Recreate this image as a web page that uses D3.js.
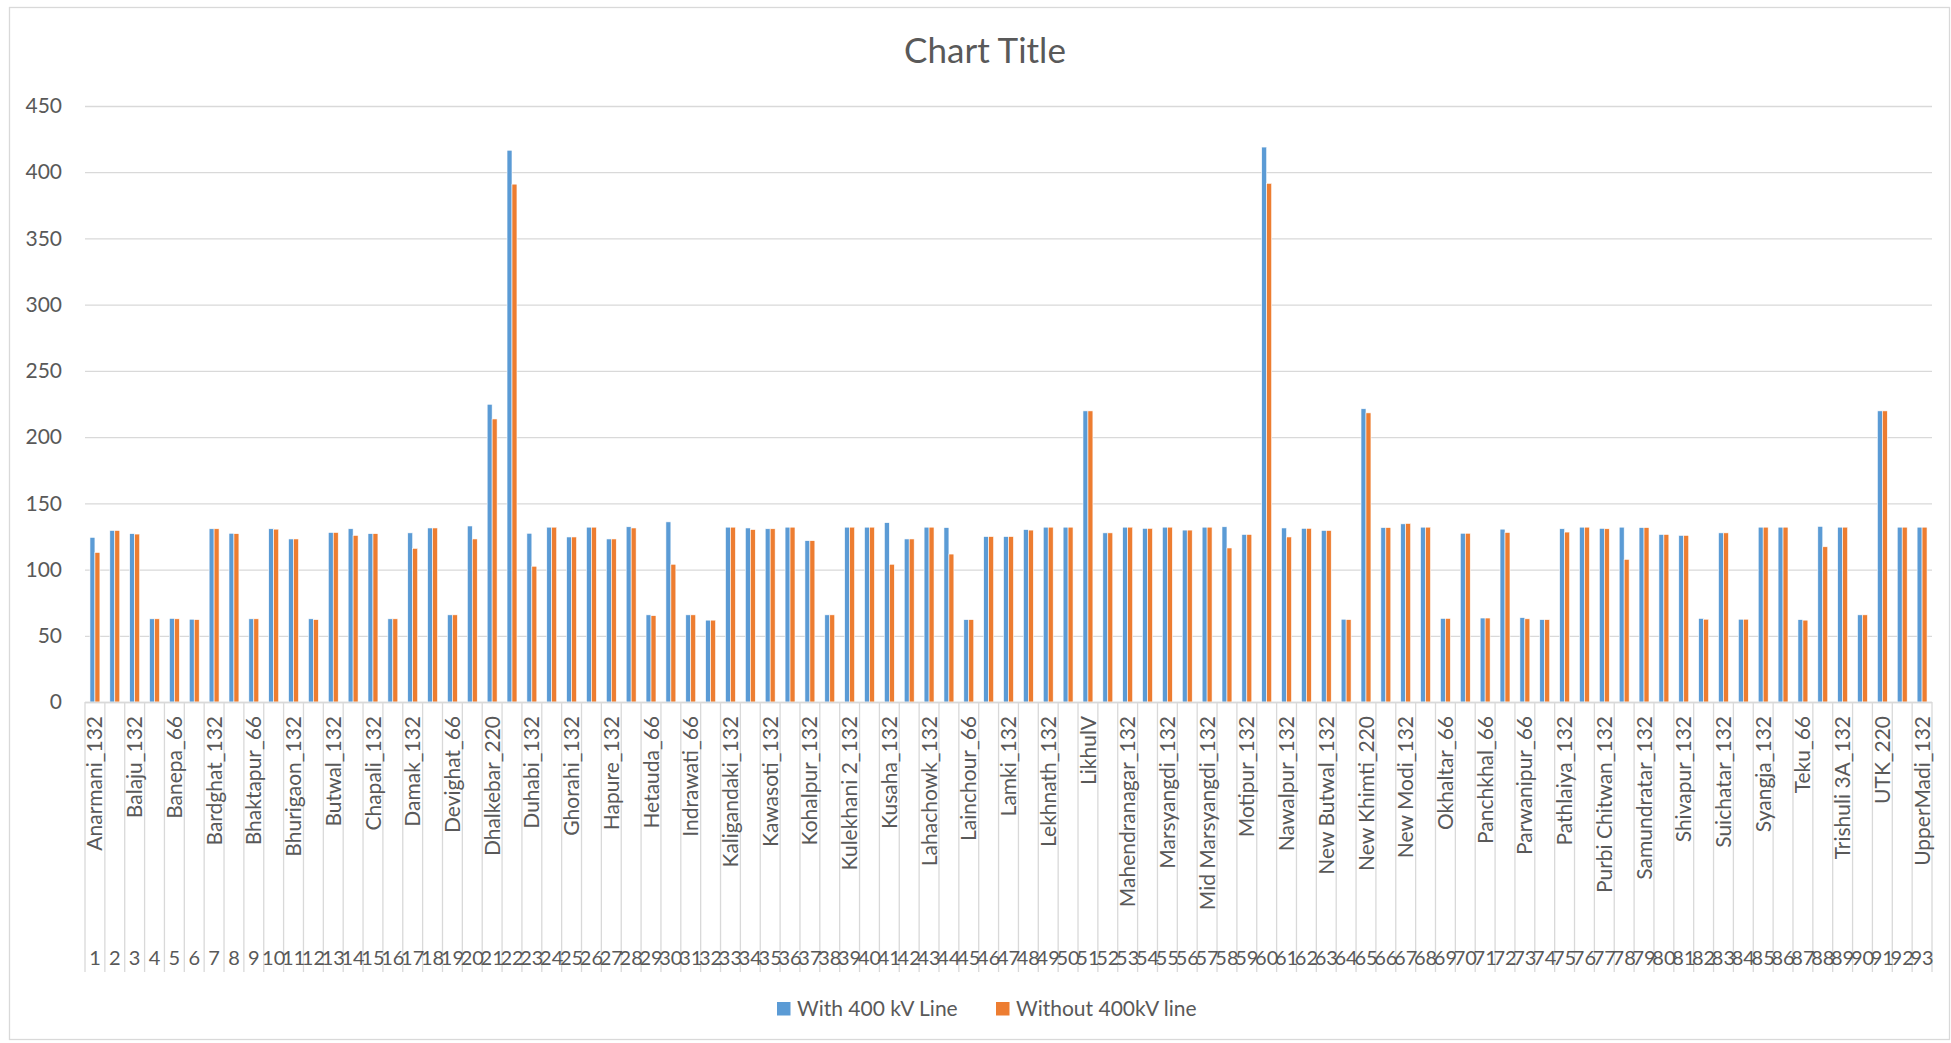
<!DOCTYPE html>
<html>
<head>
<meta charset="utf-8">
<script src="https://cdn.jsdelivr.net/npm/d3@7"></script>
<style>
  html, body { margin: 0; padding: 0; background: #fff; }
  svg { display: block; }
  text { font-family: Lato, "Open Sans", sans-serif; fill: #595959; }
</style>
</head>
<body>
<svg id="chart" width="1951" height="1043"></svg>
<script>
const categories = [1,2,3,4,5,6,7,8,9,10,11,12,13,14,15,16,17,18,19,20,21,22,23,24,25,26,27,28,29,30,
  31,32,33,34,35,36,37,38,39,40,41,42,43,44,45,46,47,48,49,50,51,52,53,54,55,56,57,58,59,60,
  61,62,63,64,65,66,67,68,69,70,71,72,73,74,75,76,77,78,79,80,81,82,83,84,85,86,87,88,89,90,91,92,93];

const stationNames = ["Anarmani_132","","Balaju_132","","Banepa_66","","Bardghat_132","","Bhaktapur_66","",
  "Bhurigaon_132","","Butwal_132","","Chapali_132","","Damak_132","","Devighat_66","",
  "Dhalkebar_220","","Duhabi_132","","Ghorahi_132","","Hapure_132","","Hetauda_66","",
  "Indrawati_66","","Kaligandaki_132","","Kawasoti_132","","Kohalpur_132","","Kulekhani 2_132","",
  "Kusaha_132","","Lahachowk_132","","Lainchour_66","","Lamki_132","","Lekhnath_132","",
  "LikhulV","","Mahendranagar_132","","Marsyangdi_132","","Mid Marsyangdi_132","","Motipur_132","",
  "Nawalpur_132","","New Butwal_132","","New Khimti_220","","New Modi_132","","Okhaltar_66","",
  "Panchkhal_66","","Parwanipur_66","","Pathlaiya_132","","Purbi Chitwan_132","","Samundratar_132","",
  "Shivapur_132","","Suichatar_132","","Syangja_132","","Teku_66","","Trishuli 3A_132","",
  "UTK_220","","UpperMadi_132"];

const withLine = [124.3,129.5,127.1,62.8,63.1,62.5,130.8,127.4,62.8,130.8,
  123.1,62.8,128.0,130.8,127.1,62.8,127.7,131.4,65.8,132.9,
  224.8,416.6,127.4,132.0,124.6,132.0,123.1,132.3,65.8,136.0,
  65.8,61.8,132.0,131.4,130.8,132.0,121.8,65.8,132.0,132.0,
  135.4,123.1,132.0,131.7,62.2,124.9,124.9,130.2,132.0,132.0,
  219.8,127.7,132.0,131.1,132.0,129.8,132.0,132.3,126.5,419.0,
  131.4,131.1,129.5,62.5,221.4,131.7,134.5,132.0,63.1,127.4,
  63.4,130.5,63.7,62.2,130.8,132.0,131.1,132.0,131.7,126.5,
  125.8,63.1,127.7,62.5,132.0,132.0,62.2,132.6,132.0,65.8,
  219.8,132.0,132.0];

const withoutLine = [112.9,129.5,126.8,62.8,62.8,62.2,130.8,127.1,62.8,130.5,
  123.1,62.2,128.0,125.8,127.1,62.8,116.0,131.4,65.8,123.1,
  213.7,391.0,102.5,132.0,124.6,132.0,123.1,131.4,65.2,104.0,
  65.8,61.8,132.0,130.2,130.8,132.0,121.8,65.8,132.0,132.0,
  104.0,123.1,132.0,111.7,62.2,124.9,124.9,129.8,132.0,132.0,
  219.8,127.7,132.0,131.1,132.0,129.8,132.0,116.3,126.5,391.6,
  124.6,131.1,129.5,62.2,218.3,131.7,134.8,132.0,63.1,127.4,
  63.4,128.0,62.8,62.2,128.3,132.0,130.8,107.7,131.7,126.5,
  125.8,62.5,127.7,62.5,132.0,132.0,61.8,117.2,132.0,65.8,
  219.8,132.0,132.0];

const seriesNames = ["With 400 kV Line", "Without 400kV line"];
const seriesColors = ["#5B9BD5", "#ED7D31"];
const yTicks = [0,50,100,150,200,250,300,350,400,450];

const svg = d3.select("#chart");
const W = 1951, H = 1043;
const plot = { left: 85, right: 1932, top: 106, bottom: 702 };

svg.append("rect").attr("x", 0).attr("y", 0).attr("width", W).attr("height", H).attr("fill", "#fff");
// chart border
svg.append("rect").attr("x", 9.5).attr("y", 7.5).attr("width", W - 11).attr("height", 1032)
  .attr("fill", "none").attr("stroke", "#d9d9d9").attr("stroke-width", 1.3);

const x0 = d3.scaleBand().domain(categories).range([plot.left, plot.right]).paddingInner(0).paddingOuter(0);
const x1 = d3.scaleBand().domain([0, 1]).range([0, x0.bandwidth()]).paddingInner(0).paddingOuter(1);
const y = d3.scaleLinear().domain([0, 450]).range([plot.bottom, plot.top]);

// gridlines + y labels
const yAxis = d3.axisLeft(y).tickValues(yTicks).tickSize(-(plot.right - plot.left)).tickPadding(23).tickFormat(d3.format("d"));
const gy = svg.append("g").attr("transform", `translate(${plot.left},0)`).call(yAxis);
gy.select(".domain").remove();
gy.selectAll(".tick line").attr("stroke", "#d9d9d9").attr("stroke-width", 1.3);
gy.selectAll(".tick text").attr("font-size", 21).attr("fill", "#595959")
  .style("font-family", "Lato, 'Open Sans', sans-serif");

// bars
const groups = svg.append("g").selectAll("g").data(categories).join("g")
  .attr("transform", d => `translate(${x0(d)},0)`);
[withLine, withoutLine].forEach((vals, si) => {
  groups.append("rect")
    .attr("x", x1(si))
    .attr("width", x1.bandwidth())
    .attr("y", (d, i) => y(vals[i]))
    .attr("height", (d, i) => y(0) - y(vals[i]))
    .attr("fill", seriesColors[si])
    .attr("stroke", "#fff").attr("stroke-width", 0.6);
});

// category axis line and separators
svg.append("line").attr("x1", plot.left).attr("x2", plot.right).attr("y1", plot.bottom + 0.5).attr("y2", plot.bottom + 0.5)
  .attr("stroke", "#d9d9d9").attr("stroke-width", 1.3);
const sepX = categories.map(c => x0(c)).concat([plot.right]);
svg.append("g").selectAll("line").data(sepX).join("line")
  .attr("x1", d => d).attr("x2", d => d)
  .attr("y1", plot.bottom).attr("y2", 972)
  .attr("stroke", "#d9d9d9").attr("stroke-width", 1.3);

// station names (rotated)
svg.append("g").selectAll("text").data(categories).join("text")
  .attr("transform", d => `translate(${x0(d) + x0.bandwidth() / 2},716) rotate(-90)`)
  .attr("text-anchor", "end")
  .attr("dy", "0.36em")
  .attr("font-size", 21)
  .text((d, i) => stationNames[i]);

// category numbers
svg.append("g").selectAll("text").data(categories).join("text")
  .attr("x", d => x0(d) + x0.bandwidth() / 2)
  .attr("y", 965)
  .attr("text-anchor", "middle")
  .attr("font-size", 20)
  .text(d => d);

// title
svg.append("text").attr("x", 985).attr("y", 63).attr("text-anchor", "middle")
  .attr("font-size", 35).attr("font-weight", 400).text("Chart Title");

// legend
const legendX = [777, 996];
const lg = svg.append("g").selectAll("g").data(seriesNames).join("g")
  .attr("transform", (d, i) => `translate(${legendX[i]},1002)`);
lg.append("rect").attr("width", 13.5).attr("height", 13.5).attr("fill", (d, i) => seriesColors[i]);
lg.append("text").attr("x", 20).attr("y", 13.5).attr("font-size", 21).text(d => d);
</script>
</body>
</html>
